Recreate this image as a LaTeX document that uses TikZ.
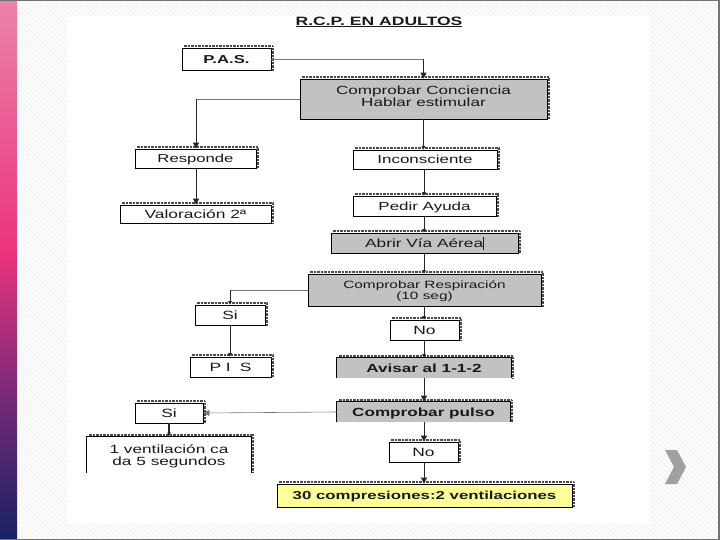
\documentclass[tikz,border=0pt]{standalone}
\usepackage{fontspec}
\setmainfont{Liberation Sans}[FakeStretch=1.45]
\usetikzlibrary{calc,arrows.meta}
\definecolor{boxgray}{RGB}{194,194,194}
\definecolor{boxyellow}{RGB}{255,255,153}
\definecolor{linegray}{RGB}{120,120,120}
\definecolor{pinkA}{RGB}{236,130,170}
\definecolor{pinkB}{RGB}{236,52,124}
\definecolor{purpA}{RGB}{120,42,120}
\definecolor{navyA}{RGB}{24,34,100}
\definecolor{chev}{RGB}{160,160,160}
\newcommand{\fsz}[2]{\fontsize{#1pt}{#2pt}\selectfont}
\tikzset{
  x=1pt, y=-1pt,
  box/.style={draw=black, line width=0.8pt, fill=white, inner sep=0pt, align=center,
     font=\fsz{11.5}{13}, text=black!90},
  one/.style={text height=#1, text depth=0pt},
  graybox/.style={box, fill=boxgray},
  openbox/.style={box, draw=none},
  yellowbox/.style={box, fill=boxyellow},
  txt/.style={align=center, text=black!90, inner sep=0pt},
  shad/.style={line width=2pt, draw=black!70, dash pattern=on 0.7pt off 0.7pt},
  vline/.style={draw=black!85, line width=0.9pt},
  hline/.style={draw=linegray, line width=0.6pt},
  arrbig/.style={-{Triangle[length=6pt,width=6pt]}},
  arrsml/.style={-{Triangle[length=3.5pt,width=3.5pt]}},
}
\newcommand{\boxshadow}[1]{%
  \draw[shad] ($(#1.north west)+(2,-1.5)$) -- ($(#1.north east)+(1.5,-1.5)$) -- ($(#1.south east)+(1.5,0)$);}
\newcommand{\openedge}[1]{%
  \draw[black, line width=0.8pt] (#1.south west) -- (#1.north west) -- (#1.north east) -- (#1.south east);}
\begin{document}
\begin{tikzpicture}
\useasboundingbox (0,0) rectangle (720,540);
% background
\fill[white] (0,0) rectangle (720,540);
\begin{scope}
\clip (17,0) rectangle (720,540);
\foreach \i in {-540,-535,...,720} \draw[black!4, line width=1.8pt] (\i,0) -- (\i+540,540);
\end{scope}
\fill[white] (67,16) rectangle (650,523);
% left bar
\shade[top color=pinkA, bottom color=pinkB] (0,0) rectangle (17,250);
\shade[top color=pinkB, bottom color=navyA, middle color=purpA] (0,250) rectangle (17,540);
% border
\fill[black!55] (0,0) rectangle (720,1.5);
\fill[black!55] (718,0) rectangle (720,540);
\fill[black!55] (0,538.5) rectangle (720,540);
% chevron
\fill[chev] (665,450) -- (677,450) -- (686,467) -- (677,484) -- (665,484) -- (674,467) -- cycle;
% title
\node[font=\fsz{12.1}{14}\bfseries, text=black!90] (title) at (379,22) {\underline{R.C.P. EN ADULTOS}};
% boxes
\node[box, one=8.23pt, minimum width=89pt, minimum height=22pt, font=\fsz{11.5}{13}\bfseries] (pas) at (226.5,59) {P.A.S.};
\node[graybox, minimum width=247pt, minimum height=40pt] (cc) at (423.5,99) {};
\node[txt, font=\fsz{11.8}{11.7}] (cctext) at (423.5,96) {Comprobar Conciencia\\Hablar estimular};
\node[box, one=8.23pt, minimum width=121pt, minimum height=19pt] (resp) at (195.5,158.5) {Responde};
\node[box, one=8.59pt, minimum width=151pt, minimum height=18pt, font=\fsz{12}{13}] (val) at (195.5,214) {Valoración 2ª};
\node[box, one=8.38pt, minimum width=144pt, minimum height=19pt, font=\fsz{11.7}{13}] (inc) at (425,159.5) {Inconsciente};
\node[box, one=8.38pt, minimum width=143pt, minimum height=20pt, font=\fsz{11.7}{13}] (ped) at (424.5,206) {Pedir Ayuda};
\node[graybox, one=8.52pt, minimum width=187pt, minimum height=20pt, font=\fsz{11.9}{13}] (abr) at (424.5,243) {Abrir Vía Aérea\rule[-3pt]{0.6pt}{13pt}};
\node[graybox, minimum width=233pt, minimum height=32pt] (cr) at (424.5,290) {};
\node[txt, font=\fsz{10.6}{10.8}] (crtext) at (424.5,291.5) {Comprobar Respiración\\(10 seg)};
\node[box, one=8.59pt, minimum width=70pt, minimum height=20pt, font=\fsz{12}{13}] (si1) at (230,315) {Si};
\node[box, one=8.59pt, minimum width=81pt, minimum height=20pt, font=\fsz{12}{13}] (pis) at (230.5,367) {P I\hspace{9pt}S};
\node[box, one=8.59pt, minimum width=69pt, minimum height=20pt, font=\fsz{12}{13}] (no1) at (424.5,330) {No};
\node[graybox, draw=none, one=8.45pt, minimum width=174pt, minimum height=20pt, font=\fsz{11.8}{13}\bfseries] (av) at (424,368) {Avisar al 1-1-2};
\node[graybox, draw=none, one=8.45pt, minimum width=173pt, minimum height=20pt, font=\fsz{11.8}{13}\bfseries] (cp) at (423.5,412) {Comprobar pulso};
\node[box, one=8.59pt, minimum width=68pt, minimum height=20pt, font=\fsz{12}{13}] (si2) at (169,413) {Si};
\node[openbox, minimum width=164pt, minimum height=36pt, anchor=north] (vent) at (169,436) {};
\node[txt, font=\fsz{11.9}{12.2}] (venttext) at (169,456) {1 ventilación ca\\da 5 segundos};
\node[box, one=8.59pt, minimum width=69pt, minimum height=20pt, font=\fsz{12}{13}] (no2) at (423.5,452) {No};
\node[yellowbox, one=8.23pt, minimum width=295pt, minimum height=23pt, font=\fsz{11.6}{13}\bfseries] (comp) at (424.5,495.5) {30 compresiones:2 ventilaciones};
% open edges
\openedge{av}
\openedge{cp}
\openedge{vent}
% shadows
\foreach \n in {pas,cc,resp,val,inc,ped,abr,cr,si1,pis,no1,av,cp,si2,vent,no2,comp} {\boxshadow{\n}}
% connectors
\draw[hline] (pas.east) -- (423.5,59);
\draw[vline, arrbig] (423.5,59) -- (cc.north);
\draw[hline] (cc.west) -- (196,99);
\draw[vline, arrbig] (196,99) -- (resp.north -| 196,0);
\draw[vline, arrbig] (resp.south -| 196,0) -- (val.north -| 196,0);
\draw[vline, arrsml] (cc.south) -- (cc.south |- inc.north);
\draw[vline, arrsml] (inc.south -| 424,0) -- (ped.north -| 424,0);
\draw[vline, arrsml] (ped.south -| 424,0) -- (abr.north -| 424,0);
\draw[vline, arrsml] (abr.south -| 424,0) -- (cr.north -| 424,0);
\draw[vline, arrsml] (cr.south -| 424,0) -- (no1.north -| 424,0);
\draw[vline, arrsml] (no1.south -| 424,0) -- (av.north -| 424,0);
\draw[vline, arrbig] (av.south -| 424,0) -- (cp.north -| 424,0);
\draw[vline, arrbig] (cp.south -| 424,0) -- (no2.north -| 424,0);
\draw[vline, arrbig] (no2.south -| 424,0) -- (comp.north -| 424,0);
\draw[hline] (cr.west) -- (230,290);
\draw[vline, arrsml] (230,290) -- (si1.north);
\draw[vline, arrsml] (si1.south) -- (si1.south |- pis.north);
\draw[hline, arrbig] (cp.west) -- (si2.east);
\draw[vline, line width=1.4pt, arrsml] (si2.south) -- (vent.north);
\end{tikzpicture}
\end{document}
